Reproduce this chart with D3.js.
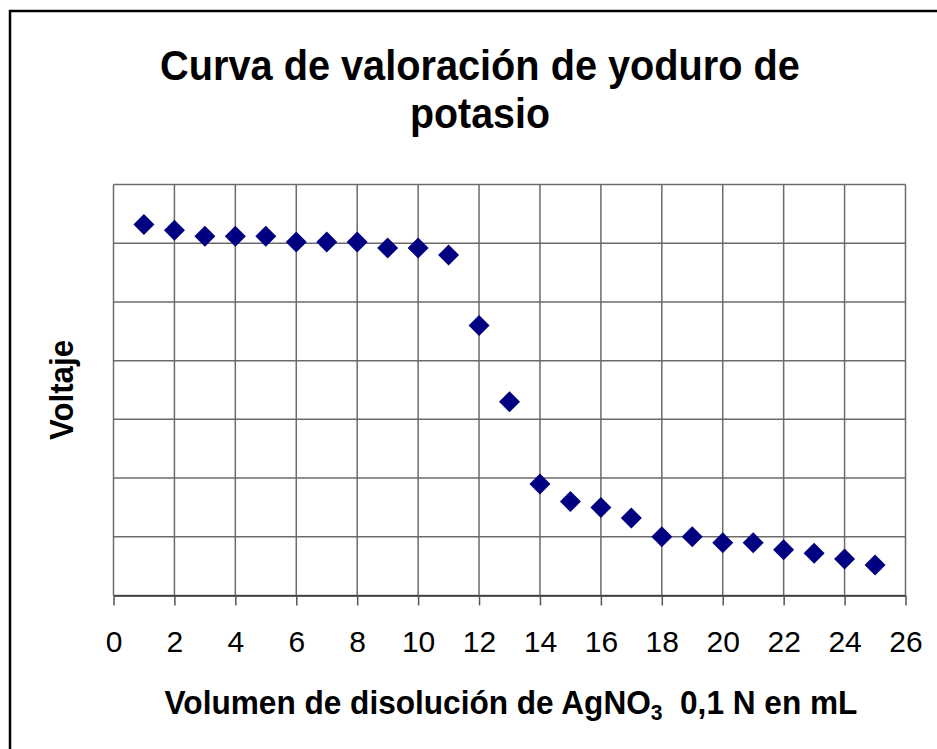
<!DOCTYPE html>
<html><head><meta charset="utf-8">
<script src="https://cdn.jsdelivr.net/npm/d3@7"></script>
<style>body{margin:0;background:#fff}svg{display:block}text{font-family:"Liberation Sans",Arial,sans-serif}</style>
</head><body>
<script>
const volumes = [1,2,3,4,5,6,7,8,9,10,11,12,13,14,15,16,17,18,19,20,21,22,23,24,25];
const voltages = [316,311,306,306,306,301,301,301,296,296,290,230,165,95,80,75,66,50,50,45,45,39,36,31,26];
const xTicks = [0,2,4,6,8,10,12,14,16,18,20,22,24,26];
const yTicks = [0,50,100,150,200,250,300,350];
const titleLines = ["Curva de valoración de yoduro de","potasio"];

const W=937,H=749;
const svg=d3.select("body").append("svg").attr("width",W).attr("height",H);
svg.append("rect").attr("x",10).attr("y",11).attr("width",W+20).attr("height",H+20)
  .attr("fill","#fff").attr("stroke","#000").attr("stroke-width",2.5);

const L=113.5,R=905.5,T=184.5,B=595.5;
const x=d3.scaleLinear().domain([0,26]).range([L,R]);
const y=d3.scaleLinear().domain([0,350]).range([B,T]);

// squeeze text horizontally to a target width around its centre
function fit(node, cx, cy, target){
  const w=node.getBBox().width;
  const s=target/w;
  d3.select(node).attr("transform",`translate(${cx},${cy}) scale(${s},1)`);
}

// grid
const g=svg.append("g");
g.selectAll(".hg").data(yTicks).join("line").attr("x1",L).attr("x2",R)
  .attr("y1",d=>y(d)).attr("y2",d=>y(d)).attr("stroke","#6b6b6b").attr("stroke-width",1.5);
g.selectAll(".vg").data(xTicks).join("line").attr("y1",T).attr("y2",B)
  .attr("x1",d=>x(d)).attr("x2",d=>x(d)).attr("stroke","#6b6b6b").attr("stroke-width",1.5);

// x axis
const xa=svg.append("g").attr("transform",`translate(0,${B})`)
  .call(d3.axisBottom(x).tickValues(xTicks).tickSize(10).tickPadding(25).tickSizeOuter(0));
xa.select(".domain").attr("stroke","#333").attr("stroke-width",1.5);
xa.selectAll(".tick line").attr("stroke","#555").attr("stroke-width",1.5);
xa.selectAll(".tick text").attr("font-size",30).attr("fill","#000")
  .attr("font-family","'Liberation Sans',Arial,sans-serif");

// points
svg.append("g").selectAll("path").data(volumes).join("path")
  .attr("transform",(d,i)=>`translate(${x(d)},${y(voltages[i])})`)
  .attr("d","M0,-10.5L10.5,0L0,10.5L-10.5,0Z").attr("fill","#000080");

// title
const titleW=[640,140];
svg.append("g").selectAll("text").data(titleLines).join("text")
  .attr("x",0).attr("y",0).attr("text-anchor","middle")
  .attr("font-size",42).attr("font-weight","bold").text(d=>d)
  .each(function(d,i){ fit(this,480,80+i*48,titleW[i]); });

// y title
const yt=svg.append("text").attr("text-anchor","middle").attr("font-size",33)
  .attr("font-weight","bold").text("Voltaje");
{ const w=yt.node().getBBox().width; const s=100/w;
  yt.attr("transform",`translate(73,390) rotate(-90) scale(${s},1)`); }

// x title
const xt=svg.append("text").attr("x",0).attr("y",0).attr("text-anchor","middle")
  .attr("font-size",33).attr("font-weight","bold");
xt.append("tspan").text("Volumen de disolución de AgNO");
xt.append("tspan").attr("font-size",22).attr("dy",6).text("3");
xt.append("tspan").attr("dy",-6).attr("xml:space","preserve").text("\u00a0\u00a00,1 N en mL");
fit(xt.node(),511,714,693);
</script>
</body></html>
